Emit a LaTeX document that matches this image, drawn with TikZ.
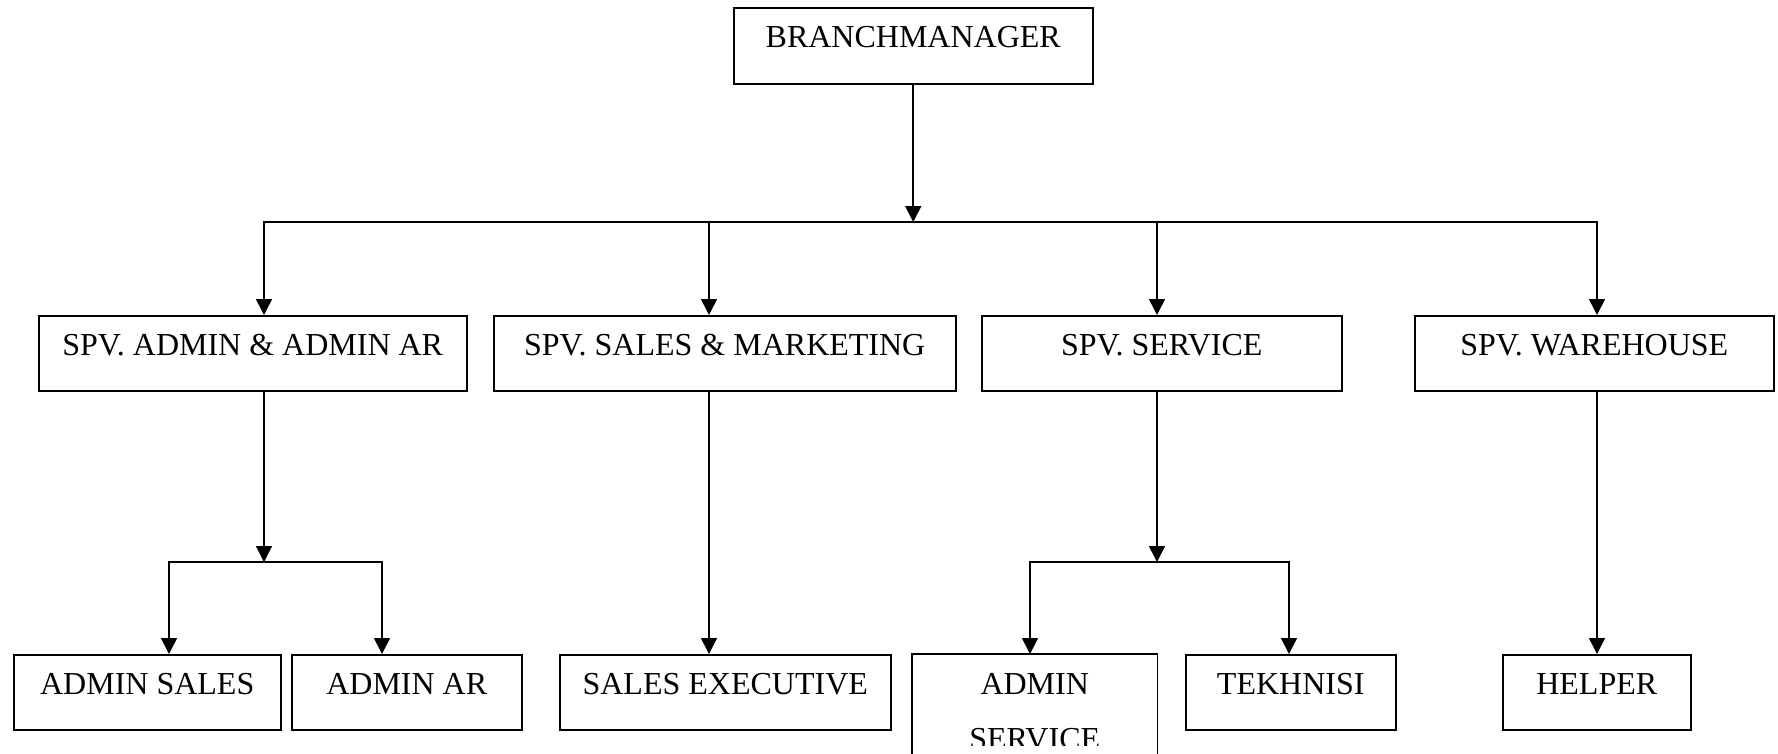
\documentclass[tikz,border=0pt]{standalone}
\usepackage{fontspec}
\setmainfont{Liberation Serif}
\usetikzlibrary{arrows.meta}
\begin{document}
\begin{tikzpicture}[x=1pt,y=-1pt,
  box/.style={draw, line width=1.5pt, rectangle, inner sep=0pt, anchor=north west,
    text height=40pt, text depth=35pt, font=\fontsize{32}{38}\selectfont},
  link/.style={line width=1.6pt},
  arr/.style={link, -{Triangle[length=16pt,width=16pt]}}]
\clip (0,0) rectangle (1778,753);

% top level
\node[box, minimum width=359pt, text depth=36pt] (bm) at (733,7) {BRANCHMANAGER};

% supervisors
\node[box, minimum width=428pt] (sa) at (38,315)   {SPV. ADMIN \& ADMIN AR};
\node[box, minimum width=462pt] (ss) at (493,315)  {SPV. SALES \& MARKETING};
\node[box, minimum width=360pt] (sv) at (981,315)  {SPV. SERVICE};
\node[box, minimum width=359pt] (sw) at (1414,315) {SPV. WAREHOUSE};

% staff
\node[box, minimum width=267pt] (as) at (13,654)   {ADMIN SALES};
\node[box, minimum width=230pt] (aa) at (291,654)  {ADMIN AR};
\node[box, minimum width=331pt] (se) at (559,654)  {SALES EXECUTIVE};
% two-line box: its text area ends above the page edge, the frame runs on
\begin{scope}
  \clip (0,0) rectangle (1778,745);
  \node[box, draw=none, minimum width=244pt, text depth=120pt,
        font=\fontsize{32}{55}\selectfont]
        (ad) at (912,654) {\begin{tabular}[t]{@{}c@{}}ADMIN\\SERVICE\end{tabular}};
\end{scope}
\draw[line width=1.5pt] (ad.south west) rectangle (ad.north east);
\node[box, minimum width=210pt] (tk) at (1185,654) {TEKHNISI};
\node[box, minimum width=188pt] (hp) at (1502,654) {HELPER};

% rail under the branch manager
\coordinate (ra) at (264,222);
\coordinate (rs) at (709,222);
\coordinate (rv) at (1157,222);
\coordinate (rw) at (1597,222);
\draw[link, line cap=rect] (ra) -- (rw);
\draw[arr] (bm.south) -- (bm.south |- ra);
\draw[arr] (ra) -- (ra |- sa.north);
\draw[arr] (rs) -- (rs |- ss.north);
\draw[arr] (rv) -- (rv |- sv.north);
\draw[arr] (rw) -- (rw |- sw.north);

% admin branch
\coordinate (ja)  at (264,562);
\coordinate (jal) at (169,562);
\coordinate (jar) at (382,562);
\draw[arr] (ja |- sa.south) -- (ja);
\draw[link, line cap=rect] (jal) -- (jar);
\draw[arr] (jal) -- (jal |- as.north);
\draw[arr] (jar) -- (jar |- aa.north);

% sales branch
\draw[arr] (rs |- ss.south) -- (rs |- se.north);

% service branch
\coordinate (jv)  at (1157,562);
\coordinate (jvl) at (1030,562);
\coordinate (jvr) at (1289,562);
\draw[arr] (jv |- sv.south) -- (jv);
\draw[link, line cap=rect] (jvl) -- (jvr);
\draw[arr] (jvl) -- (jvl |- ad.north);
\draw[arr] (jvr) -- (jvr |- tk.north);

% warehouse branch
\draw[arr] (rw |- sw.south) -- (rw |- hp.north);
\end{tikzpicture}
\end{document}
